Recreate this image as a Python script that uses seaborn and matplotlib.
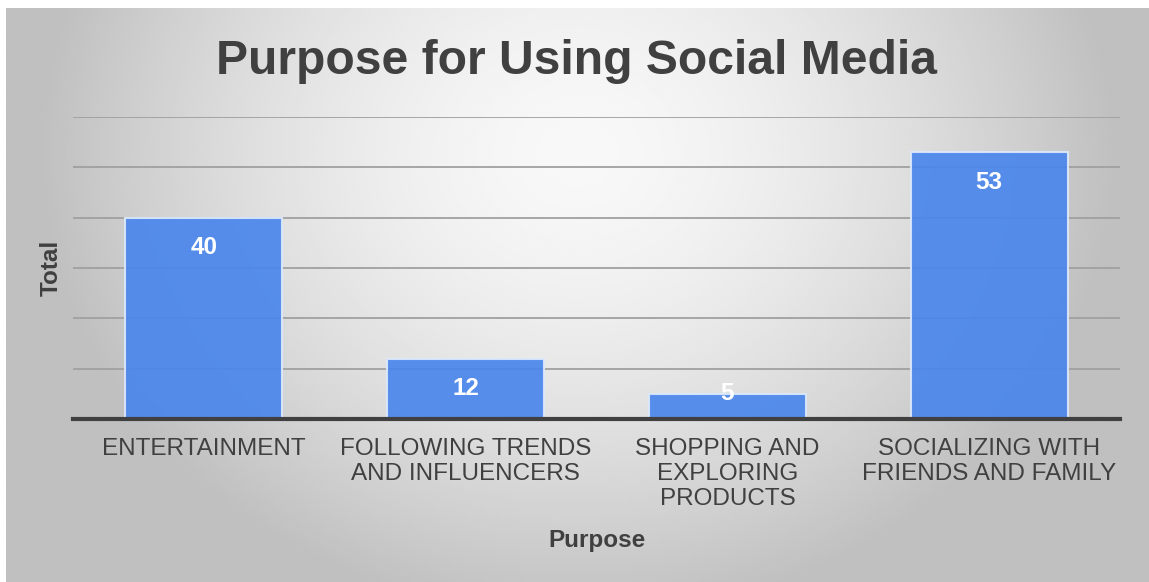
import numpy as np
import pandas as pd
import matplotlib
matplotlib.use("Agg")
import matplotlib.pyplot as plt
import seaborn as sns

categories = ["ENTERTAINMENT", "FOLLOWING TRENDS\nAND INFLUENCERS",
              "SHOPPING AND\nEXPLORING\nPRODUCTS", "SOCIALIZING WITH\nFRIENDS AND FAMILY"]
totals = [40, 12, 5, 53]
yticks = [0, 10, 20, 30, 40, 50, 60]

sns.set_theme(style="white")
plt.rcParams['font.family'] = ['Liberation Sans', 'DejaVu Sans']

W, H = 1149, 582
fig = plt.figure(figsize=(W / 100, H / 100), dpi=100, facecolor="white")

# background gradient panel
bg = fig.add_axes([6 / W, 0, 1 - 6 / W, (H - 8) / H], zorder=-5)
nx, ny = 400, 200
xx, yy = np.meshgrid(np.linspace(0, 1, nx), np.linspace(0, 1, ny))
d = np.sqrt(((xx - 0.5) / 0.55) ** 2 + ((yy - 0.25) / 0.95) ** 2)
val = 248 - 72 * np.clip(d, 0, 1.2) ** 1.6
val = np.clip(val, 192, 250) / 255.0
bg.imshow(val, cmap="gray", vmin=0, vmax=1, aspect="auto", extent=[0, 1, 1, 0],
          interpolation="bilinear")
bg.axis("off")

ax = fig.add_axes([73 / W, (H - 419) / H, (1120 - 73) / W, (419 - 117) / H])
ax.patch.set_alpha(0)

df = pd.DataFrame({"Purpose": categories, "Total": totals})
sns.barplot(data=df, x="Purpose", y="Total", ax=ax, color="#4a86ec", saturation=1,
            width=0.6, alpha=0.92, edgecolor="#dce9fb", linewidth=1.5, zorder=3)

ax.set_ylim(0, 60)
ax.set_yticks(yticks)
ax.set_yticklabels([])
ax.tick_params(axis="y", length=0)
ax.grid(axis="y", color="#a0a0a0", linewidth=1.3, zorder=1)
ax.set_axisbelow(True)
for s in ["top", "right", "left"]:
    ax.spines[s].set_visible(False)
ax.spines["bottom"].set_color("#404040")
ax.spines["bottom"].set_linewidth(3)
ax.spines["bottom"].set_zorder(5)

ax.tick_params(axis="x", length=0, pad=14)
for lab in ax.get_xticklabels():
    lab.set_fontsize(17.5)
    lab.set_color("#404040")
    lab.set_linespacing(1.16)

ax.set_xlabel("Purpose", fontsize=17.5, fontweight="bold", color="#404040", labelpad=14)
ax.set_ylabel("Total", fontsize=17.5, fontweight="bold", color="#404040", labelpad=4)

# data labels
px_per_unit = (419 - 117) / 60
for p, v in zip(ax.patches, totals):
    hpx = v * px_per_unit
    off = -30 if hpx > 40 else 0
    ax.annotate(str(v), (p.get_x() + p.get_width() / 2, p.get_height()),
                xytext=(0, off * 0.72), textcoords="offset points",
                ha="center", va="center", fontsize=17.5, fontweight="bold",
                color="white", zorder=6)

fig.text(577 / W, 1 - 62 / H, "Purpose for Using Social Media", ha="center", va="center",
         fontsize=34.6, fontweight="bold", color="#404040")

fig.savefig("out.png", dpi=100, facecolor="white")
